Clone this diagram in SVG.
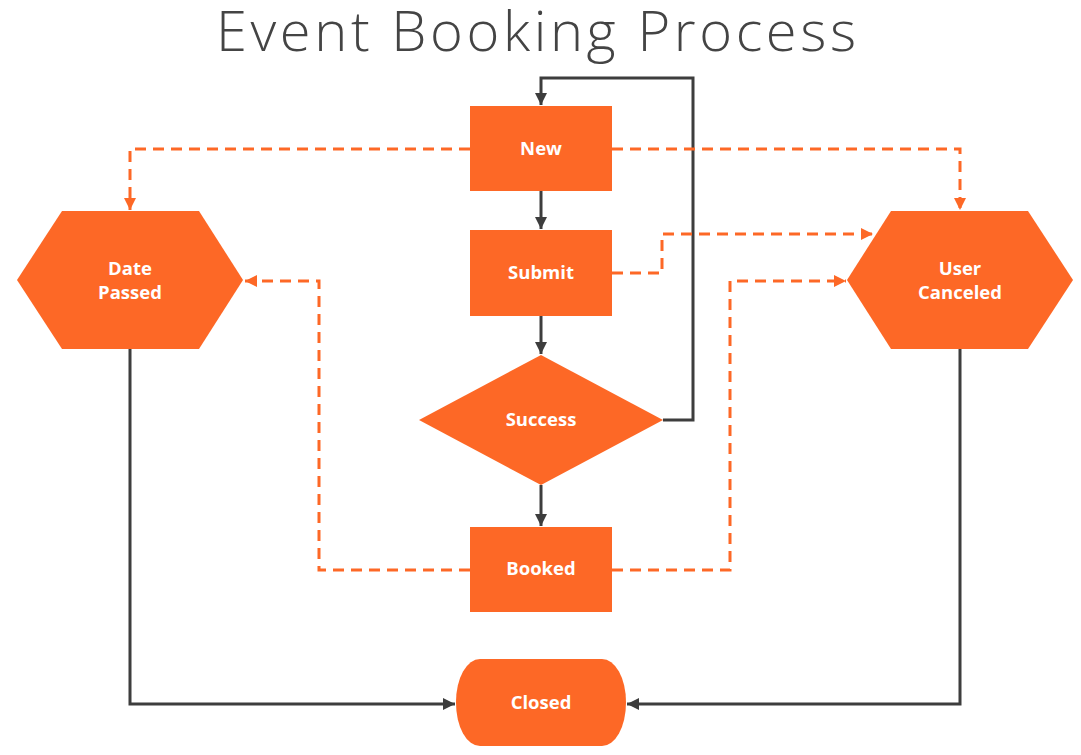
<svg xmlns="http://www.w3.org/2000/svg" width="1081" height="755" viewBox="0 0 1081 755">
<style>
.node{fill:#FD6826}
.lbl{font-family:"Open Sans","Noto Sans",sans-serif;font-weight:700;font-size:18.5px;fill:#fff;text-anchor:middle}
.solid{fill:none;stroke:#3d3d3d;stroke-width:3}
.dash{fill:none;stroke:#FD6826;stroke-width:3;stroke-dasharray:11 7}
.title{font-family:"Open Sans",Lato,sans-serif;font-weight:300;font-size:56px;fill:#444}
</style>
<defs>
<marker id="ad" viewBox="0 0 10 10" refX="10" refY="5" markerWidth="4" markerHeight="4" orient="auto" markerUnits="strokeWidth"><path d="M0,0 L10,5 L0,10 z" fill="#3d3d3d"/></marker>
<marker id="ao" viewBox="0 0 10 10" refX="10" refY="5" markerWidth="4" markerHeight="4" orient="auto" markerUnits="strokeWidth"><path d="M0,0 L10,5 L0,10 z" fill="#FD6826"/></marker>
</defs>
<rect width="1081" height="755" fill="#fff"/>
<text class="title" x="216" y="51" textLength="640" lengthAdjust="spacing">Event Booking Process</text>
<g id="connectors">
<path class="solid" d="M663,420 H693 V78 H541 V105" marker-end="url(#ad)"/>
<path class="solid" d="M541,191 V229" marker-end="url(#ad)"/>
<path class="solid" d="M541,316 V354" marker-end="url(#ad)"/>
<path class="solid" d="M541,485 V526" marker-end="url(#ad)"/>
<path class="solid" d="M130,349 V704 H455" marker-end="url(#ad)"/>
<path class="solid" d="M960,349 V704 H627" marker-end="url(#ad)"/>
<path class="dash" d="M470,149 H130 V210" marker-end="url(#ao)"/>
<path class="dash" d="M612,149 H960 V210" marker-end="url(#ao)"/>
<path class="dash" d="M612,273 H662 V234 H873" marker-end="url(#ao)"/>
<path class="dash" d="M470,570 H319 V281 H245" marker-end="url(#ao)"/>
<path class="dash" d="M612,570 H730 V281 H846" marker-end="url(#ao)"/>
</g>
<g id="new"><rect class="node" x="470" y="106" width="142" height="85"/><text class="lbl" x="541" y="155">New</text></g>
<g id="submit"><rect class="node" x="470" y="230" width="142" height="86"/><text class="lbl" x="541" y="279">Submit</text></g>
<g id="success"><polygon class="node" points="541,355 663,420 541,485 419,420"/><text class="lbl" x="541" y="426">Success</text></g>
<g id="booked"><rect class="node" x="470" y="527" width="142" height="85"/><text class="lbl" x="541" y="575">Booked</text></g>
<g id="date-passed"><polygon class="node" points="17,280 62,211 199,211 243,280 199,349 62,349"/><text class="lbl" x="130" y="275">Date</text><text class="lbl" x="130" y="299">Passed</text></g>
<g id="user-canceled"><polygon class="node" points="847,280 891,211 1028,211 1073,280 1028,349 891,349"/><text class="lbl" x="960" y="275">User</text><text class="lbl" x="960" y="299">Canceled</text></g>
<g id="closed"><rect class="node" x="456" y="659" width="170" height="87" rx="24" ry="43"/><text class="lbl" x="541" y="709">Closed</text></g>
</svg>
